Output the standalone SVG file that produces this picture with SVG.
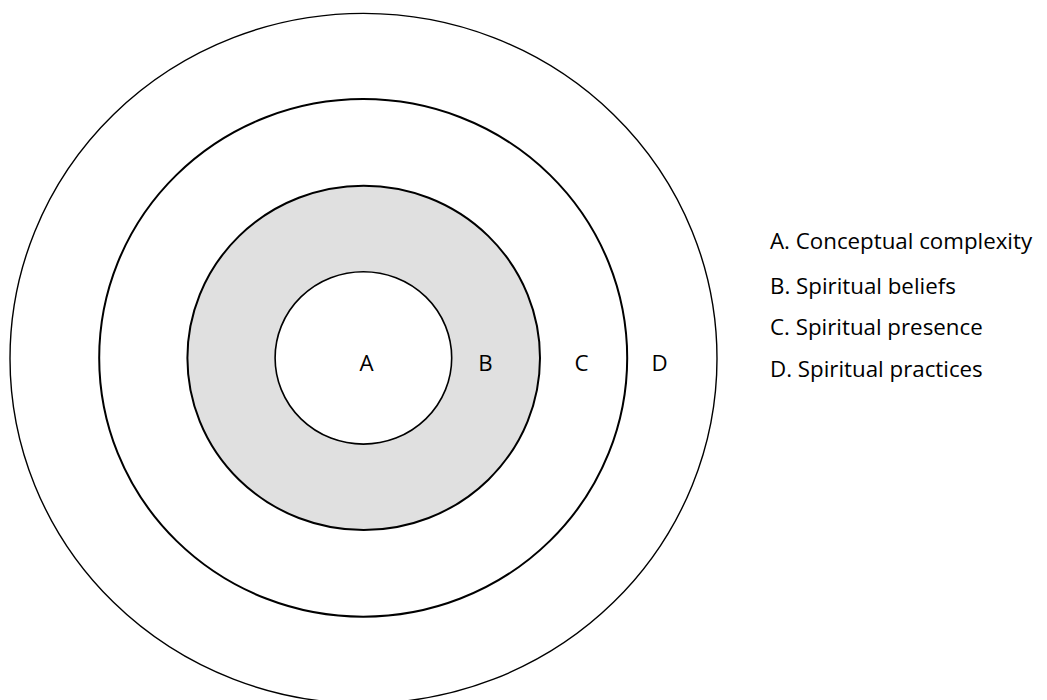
<svg xmlns="http://www.w3.org/2000/svg" width="1047" height="700" viewBox="0 0 1047 700">
<style>
.ring{fill:none;stroke:#000}
.lbl{font-family:"Open Sans","Noto Sans","Liberation Sans",sans-serif;font-size:22.3px;fill:#000}
.mid{text-anchor:middle}
</style>
<rect width="1047" height="700" fill="#fff"/>
<g id="ring-D"><ellipse class="ring" cx="363.5" cy="358.4" rx="353.5" ry="345" fill="#fff" stroke-width="1.4"/></g>
<g id="ring-C"><ellipse class="ring" cx="363.2" cy="357.9" rx="264" ry="258.8" stroke-width="2"/></g>
<g id="ring-B"><ellipse cx="363.7" cy="357.9" rx="176.3" ry="172.2" fill="#e0e0e0" stroke="#000" stroke-width="2"/></g>
<g id="ring-A"><ellipse cx="363.4" cy="357.9" rx="88.3" ry="86.2" fill="#fff" stroke="#000" stroke-width="1.6"/></g>
<g id="labels">
<text class="lbl mid" x="366.5" y="371">A</text>
<text class="lbl mid" x="485.5" y="371">B</text>
<text class="lbl mid" x="581.5" y="371">C</text>
<text class="lbl mid" x="659.5" y="371">D</text>
</g>
<g id="legend">
<text class="lbl" x="770" y="249">A. Conceptual complexity</text>
<text class="lbl" x="770" y="294">B. Spiritual beliefs</text>
<text class="lbl" x="770" y="335">C. Spiritual presence</text>
<text class="lbl" x="770" y="377">D. Spiritual practices</text>
</g>
<g id="connectors"/>
</svg>
